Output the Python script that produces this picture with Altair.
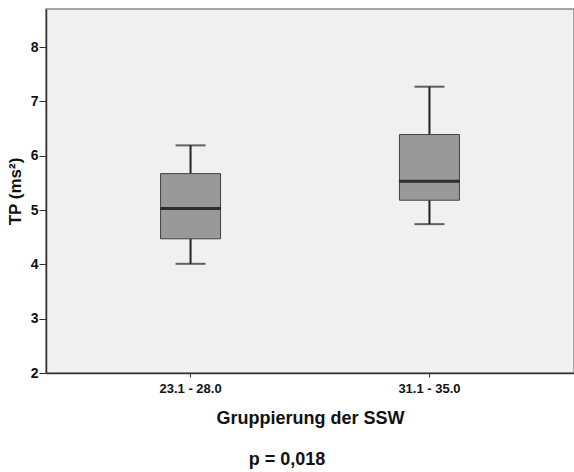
import altair as alt
import pandas as pd

categories = ["23.1 - 28.0", "31.1 - 35.0"]
whisker_low = [4.01, 4.74]
q1 = [4.47, 5.18]
median = [5.03, 5.53]
q3 = [5.67, 6.39]
whisker_high = [6.19, 7.27]

df = pd.DataFrame({
    "group": categories,
    "lo": whisker_low,
    "q1": q1,
    "med": median,
    "q3": q3,
    "hi": whisker_high,
})

FONT = "Liberation Sans"

x = alt.X(
    "group:N",
    sort=categories,
    scale=alt.Scale(paddingInner=0, paddingOuter=0.105),
    axis=alt.Axis(
        title="Gruppierung der SSW",
        labelAngle=0,
        labelFont=FONT, labelFontSize=13, labelFontWeight="bold", labelColor="#111",
        labelPadding=5,
        titleFont=FONT, titleFontSize=18, titleFontWeight="bold", titleColor="#111",
        titlePadding=14,
        tickSize=4, tickColor="#333", domainColor="#333", domainWidth=1.5,
    ),
)
yscale = alt.Scale(domain=[2, 8.7], nice=False, zero=False)
yaxis = alt.Axis(
    title="TP (ms²)",
    values=[2, 3, 4, 5, 6, 7, 8],
    grid=False,
    labelFont=FONT, labelFontSize=14, labelFontWeight="bold", labelColor="#111",
    labelPadding=1,
    titleFont=FONT, titleFontSize=17, titleFontWeight="bold", titleColor="#111",
    titlePadding=6,
    tickSize=7, tickColor="#333", domainColor="#333", domainWidth=1.5,
)

base = alt.Chart(df)

whisk = base.mark_rule(color="#222", strokeWidth=2).encode(
    x=x, y=alt.Y("lo:Q", scale=yscale, axis=yaxis), y2="hi:Q"
)
box = base.mark_bar(size=60, color="#999999", stroke="#444", strokeWidth=1).encode(
    x=x, y=alt.Y("q1:Q", scale=yscale, axis=yaxis), y2="q3:Q"
)
med = base.mark_tick(size=60, thickness=3, color="#000").encode(
    x=x, y=alt.Y("med:Q", scale=yscale, axis=yaxis)
)
cap_hi = base.mark_tick(size=30, thickness=2, color="#222").encode(
    x=x, y=alt.Y("hi:Q", scale=yscale, axis=yaxis)
)
cap_lo = base.mark_tick(size=30, thickness=2, color="#222").encode(
    x=x, y=alt.Y("lo:Q", scale=yscale, axis=yaxis)
)

chart = alt.layer(whisk, box, med, cap_hi, cap_lo).properties(
    width=528,
    height=364,
    background="white",
    autosize=alt.AutoSizeParams(type="none"),
    padding={"left": 46, "top": 9, "right": 0, "bottom": 99},
    title=alt.TitleParams(
        "p = 0,018", orient="bottom", anchor="middle", dx=-23, offset=24,
        font=FONT, fontSize=18, fontWeight="bold", color="#111",
    ),
).configure_view(fill="#f0f0f0", stroke="#888", strokeWidth=1.5)

chart.save("out.html", embed_options={"renderer": "svg", "actions": False})
